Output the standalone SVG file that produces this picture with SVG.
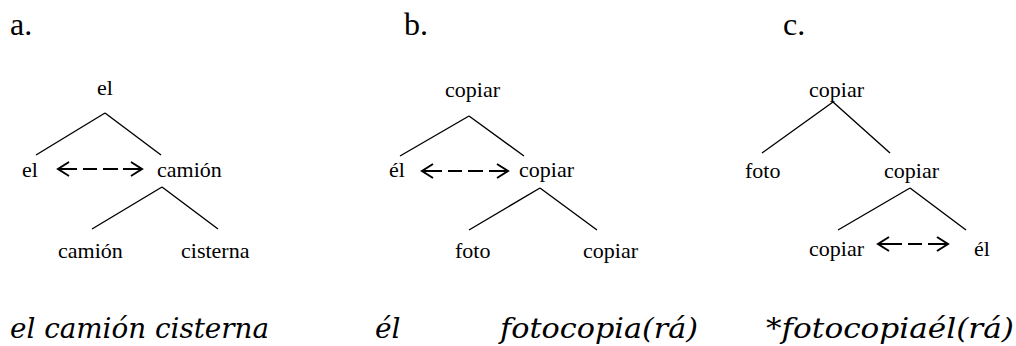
<svg xmlns="http://www.w3.org/2000/svg" width="1016" height="346" viewBox="0 0 1016 346">
<style>
.hd{font-size:32px;fill:#000}
.lbl{font-size:22px;fill:#000}
.ex{font-style:italic;font-size:28px;fill:#000}
.br{stroke:#000;stroke-width:1.4;fill:none}
.ar{stroke:#000;stroke-width:2;fill:none}
</style>
<rect width="1016" height="346" fill="#fff"/>
<g id="headings" font-family="Liberation Serif, serif">
<text class="hd" x="10" y="35">a.</text>
<text class="hd" x="404" y="35">b.</text>
<text class="hd" x="783" y="35">c.</text>
</g>
<g id="connectors">
<path class="br" d="M105,113 L36,155 M105,113 L161,155 M162,187 L92,229 M162,187 L218,229"/>
<path class="br" d="M469,116 L400,156 M469,116 L524,156 M540,188 L469,230 M540,188 L597,230"/>
<path class="br" d="M833,102 L762,153 M833,102 L890,153 M910,188 L838,230 M910,188 L966,230"/>
<path class="ar" d="M69,162 L58,169 L69,176 M58,169 H77 M83,169 H97 M103,169 H118 M123,169 H142 M131,162 L142,169 L131,176"/>
<path class="ar" d="M433,164 L422,171 L433,178 M422,171 H442 M448,171 H462 M468,171 H483 M489,171 H508 M497,164 L508,171 L497,178"/>
<path class="ar" d="M889,237 L878,244 L889,251 M878,244 H902 M908,244 H922 M928,244 H948 M937,237 L948,244 L937,251"/>
</g>
<g id="tree-a" font-family="Liberation Serif, serif">
<text class="lbl" x="97" y="95">el</text>
<text class="lbl" x="22" y="177">el</text>
<text class="lbl" x="157" y="177">camión</text>
<text class="lbl" x="58" y="258">camión</text>
<text class="lbl" x="181" y="258">cisterna</text>
</g>
<g id="tree-b" font-family="Liberation Serif, serif">
<text class="lbl" x="445" y="97">copiar</text>
<text class="lbl" x="389" y="177">él</text>
<text class="lbl" x="519" y="177">copiar</text>
<text class="lbl" x="455" y="258">foto</text>
<text class="lbl" x="583" y="258">copiar</text>
</g>
<g id="tree-c" font-family="Liberation Serif, serif">
<text class="lbl" x="809" y="97">copiar</text>
<text class="lbl" x="745" y="178">foto</text>
<text class="lbl" x="884" y="178">copiar</text>
<text class="lbl" x="809" y="256">copiar</text>
<text class="lbl" x="974" y="256">él</text>
</g>
<g id="examples" font-family="DejaVu Serif, serif">
<text class="ex" x="10" y="338" textLength="259" lengthAdjust="spacingAndGlyphs">el camión cisterna</text>
<text class="ex" x="375" y="338">él</text>
<text class="ex" x="500" y="338" textLength="198" lengthAdjust="spacingAndGlyphs">fotocopia(rá)</text>
<text class="ex" x="766" y="338" textLength="248" lengthAdjust="spacingAndGlyphs">*fotocopiaél(rá)</text>
</g>
</svg>
